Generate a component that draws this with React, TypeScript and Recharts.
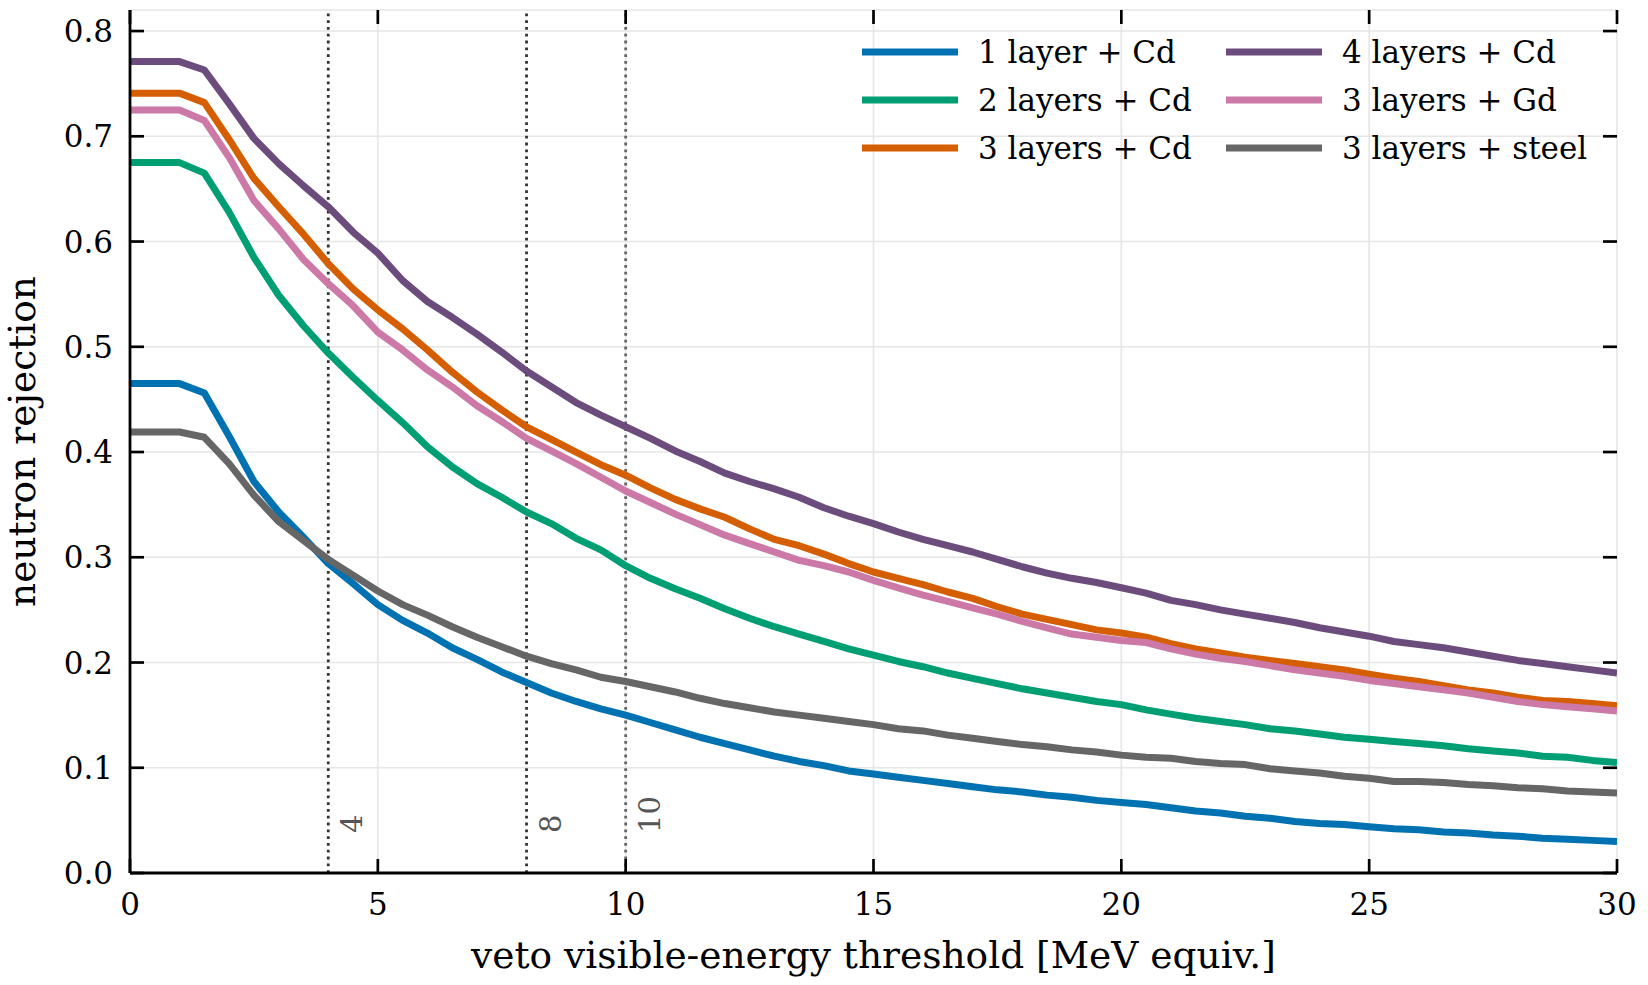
import React from 'react';
import { LineChart, Line, XAxis, YAxis, CartesianGrid, ReferenceLine, Legend } from 'recharts';

const thresholds = [
  0, 0.5, 1, 1.5, 2, 2.5, 3, 3.5, 4, 4.5,
  5, 5.5, 6, 6.5, 7, 7.5, 8, 8.5, 9, 9.5,
  10, 10.5, 11, 11.5, 12, 12.5, 13, 13.5, 14, 14.5,
  15, 15.5, 16, 16.5, 17, 17.5, 18, 18.5, 19, 19.5,
  20, 20.5, 21, 21.5, 22, 22.5, 23, 23.5, 24, 24.5,
  25, 25.5, 26, 26.5, 27, 27.5, 28, 28.5, 29, 29.5,
  30,
];

const oneLayerCd = [
  0.465, 0.465, 0.465, 0.456, 0.415, 0.372, 0.343, 0.319, 0.294, 0.275,
  0.255, 0.240, 0.228, 0.214, 0.203, 0.191, 0.181, 0.171, 0.163, 0.156,
  0.150, 0.143, 0.136, 0.129, 0.123, 0.117, 0.111, 0.106, 0.102, 0.097,
  0.094, 0.091, 0.088, 0.085, 0.082, 0.079, 0.077, 0.074, 0.072, 0.069,
  0.067, 0.065, 0.062, 0.059, 0.057, 0.054, 0.052, 0.049, 0.047, 0.046,
  0.044, 0.042, 0.041, 0.039, 0.038, 0.036, 0.035, 0.033, 0.032, 0.031,
  0.030,
];

const twoLayersCd = [
  0.675, 0.675, 0.675, 0.665, 0.628, 0.585, 0.549, 0.520, 0.494, 0.471,
  0.449, 0.428, 0.405, 0.386, 0.370, 0.357, 0.343, 0.332, 0.318, 0.307,
  0.292, 0.280, 0.270, 0.261, 0.251, 0.242, 0.234, 0.227, 0.220, 0.213,
  0.207, 0.201, 0.196, 0.190, 0.185, 0.180, 0.175, 0.171, 0.167, 0.163,
  0.160, 0.155, 0.151, 0.147, 0.144, 0.141, 0.137, 0.135, 0.132, 0.129,
  0.127, 0.125, 0.123, 0.121, 0.118, 0.116, 0.114, 0.111, 0.110, 0.107,
  0.105,
];

const threeLayersCd = [
  0.741, 0.741, 0.741, 0.732, 0.697, 0.660, 0.633, 0.607, 0.579, 0.555,
  0.535, 0.517, 0.497, 0.476, 0.457, 0.440, 0.424, 0.412, 0.400, 0.388,
  0.378, 0.366, 0.355, 0.346, 0.338, 0.327, 0.317, 0.311, 0.303, 0.294,
  0.286, 0.280, 0.274, 0.267, 0.261, 0.253, 0.246, 0.241, 0.236, 0.231,
  0.228, 0.224, 0.218, 0.213, 0.209, 0.205, 0.202, 0.199, 0.196, 0.193,
  0.189, 0.185, 0.182, 0.178, 0.174, 0.171, 0.167, 0.164, 0.163, 0.161,
  0.159,
];

const fourLayersCd = [
  0.771, 0.771, 0.771, 0.763, 0.731, 0.698, 0.674, 0.653, 0.633, 0.609,
  0.589, 0.563, 0.543, 0.528, 0.512, 0.495, 0.477, 0.462, 0.447, 0.435,
  0.424, 0.413, 0.401, 0.391, 0.380, 0.372, 0.365, 0.357, 0.347, 0.339,
  0.332, 0.324, 0.317, 0.311, 0.305, 0.298, 0.291, 0.285, 0.280, 0.276,
  0.271, 0.266, 0.259, 0.255, 0.250, 0.246, 0.242, 0.238, 0.233, 0.229,
  0.225, 0.220, 0.217, 0.214, 0.210, 0.206, 0.202, 0.199, 0.196, 0.193,
  0.190,
];

const threeLayersGd = [
  0.725, 0.725, 0.725, 0.715, 0.680, 0.639, 0.612, 0.583, 0.560, 0.539,
  0.514, 0.497, 0.478, 0.462, 0.444, 0.429, 0.413, 0.401, 0.389, 0.376,
  0.363, 0.352, 0.341, 0.331, 0.321, 0.313, 0.305, 0.297, 0.292, 0.286,
  0.278, 0.271, 0.264, 0.258, 0.252, 0.246, 0.239, 0.233, 0.227, 0.224,
  0.221, 0.219, 0.213, 0.208, 0.204, 0.201, 0.197, 0.193, 0.190, 0.187,
  0.183, 0.180, 0.177, 0.174, 0.171, 0.167, 0.163, 0.160, 0.158, 0.156,
  0.154,
];

const threeLayersSteel = [
  0.419, 0.419, 0.419, 0.414, 0.389, 0.359, 0.334, 0.316, 0.298, 0.283,
  0.268, 0.255, 0.245, 0.234, 0.224, 0.215, 0.206, 0.199, 0.193, 0.186,
  0.182, 0.177, 0.172, 0.166, 0.161, 0.157, 0.153, 0.150, 0.147, 0.144,
  0.141, 0.137, 0.135, 0.131, 0.128, 0.125, 0.122, 0.120, 0.117, 0.115,
  0.112, 0.110, 0.109, 0.106, 0.104, 0.103, 0.099, 0.097, 0.095, 0.092,
  0.090, 0.087, 0.087, 0.086, 0.084, 0.083, 0.081, 0.080, 0.078, 0.077,
  0.076,
];

const seriesKeys = ['l1cd', 'l2cd', 'l3cd', 'l4cd', 'l3gd', 'l3steel'];
const seriesNames = ['1 layer + Cd', '2 layers + Cd', '3 layers + Cd', '4 layers + Cd', '3 layers + Gd', '3 layers + steel'];
const seriesColors = ['#0072B2', '#009E73', '#D55E00', '#6C4C7C', '#CC79A7', '#666666'];
const seriesValues = [oneLayerCd, twoLayersCd, threeLayersCd, fourLayersCd, threeLayersGd, threeLayersSteel];

const xTicks = [0, 5, 10, 15, 20, 25, 30];
const yTicks = [0, 0.1, 0.2, 0.3, 0.4, 0.5, 0.6, 0.7, 0.8];
const markers = [4, 8, 10];
const markerLabels = ['4', '8', '10'];
const markerColors = ['#333333', '#333333', '#666666'];

const data = thresholds.map((x, i) => {
  const row: Record<string, number> = { x };
  seriesKeys.forEach((k, j) => {
    row[k] = seriesValues[j][i];
  });
  return row;
});

// Layout constants
const CHART_W = 1648;
const CHART_H = 985;
const MARGIN = { top: 10, right: 31, bottom: 10, left: 60 };
const X_AXIS_H = 102;
const Y_AXIS_W = 70;
const PLOT_W = CHART_W - MARGIN.left - Y_AXIS_W - MARGIN.right;
const PLOT_H = CHART_H - MARGIN.top - MARGIN.bottom - X_AXIS_H;

const FONT = 'DejaVu Serif';
const TICK_LEN = 14;
const TICK_W = 2.7;
const TICK_C = '#000';
const FRAME_W = 2.8;

// Bottom tick: inward tick at bottom and mirrored tick at top frame, plus label.
const BottomTick = (props: any) => {
  const { x, y, payload } = props;
  const yTop = y - PLOT_H;
  return (
    <g>
      <line x1={x} y1={y} x2={x} y2={y - TICK_LEN} stroke={TICK_C} strokeWidth={TICK_W} />
      <line x1={x} y1={yTop} x2={x} y2={yTop + TICK_LEN} stroke={TICK_C} strokeWidth={TICK_W} />
      <text x={x} y={y + 42} textAnchor="middle" fontFamily={FONT} fontSize={31} fill="#000">
        {payload.value}
      </text>
    </g>
  );
};

// Left tick: inward tick at left and mirrored tick at right frame, plus label.
const LeftTick = (props: any) => {
  const { x, y, payload } = props;
  const xRight = x + PLOT_W;
  return (
    <g>
      <line x1={x} y1={y} x2={x + TICK_LEN} y2={y} stroke={TICK_C} strokeWidth={TICK_W} />
      <line x1={xRight} y1={y} x2={xRight - TICK_LEN} y2={y} stroke={TICK_C} strokeWidth={TICK_W} />
      <text x={x - 17} y={y + 11} textAnchor="end" fontFamily={FONT} fontSize={31} fill="#000">
        {Number(payload.value).toFixed(1)}
      </text>
    </g>
  );
};

const NoTick = () => <g />;

const makeMarkerLabel = (text: string) => (props: any) => {
  const vb = props.viewBox || {};
  const lx = (vb.x || 0) + 24;
  const ly = (vb.y || 0) + (vb.height || 0) - 40;
  return (
    <text
      x={lx}
      y={ly}
      transform={`rotate(-90, ${lx}, ${ly})`}
      textAnchor="start"
      dominantBaseline="central"
      fontFamily={FONT}
      fontSize={29}
      fill="#555555"
    >
      {text}
    </text>
  );
};

const legendOrder = [0, 1, 2, 3, 4, 5];

const LegendContent = () => {
  const colX = [7, 371];
  const rowY = [27, 75, 123];
  return (
    <svg width={780} height={150} style={{ overflow: 'visible' }}>
      {legendOrder.map((idx, n) => {
        const col = Math.floor(n / 3);
        const row = n % 3;
        const x0 = colX[col];
        const y0 = rowY[row];
        return (
          <g key={seriesKeys[idx]}>
            <line x1={x0} y1={y0} x2={x0 + 96} y2={y0} stroke={seriesColors[idx]} strokeWidth={7} />
            <text x={x0 + 116} y={y0 + 11} fontFamily={FONT} fontSize={31} fill="#000">
              {seriesNames[idx]}
            </text>
          </g>
        );
      })}
    </svg>
  );
};

export default function App() {
  return (
    <div style={{ position: 'absolute', left: 0, top: 0, width: CHART_W, height: CHART_H, background: '#fff' }}>
      <LineChart width={CHART_W} height={CHART_H} data={data} margin={MARGIN}>
        <CartesianGrid stroke="#e6e6e6" strokeWidth={1.6} />
        <XAxis
          dataKey="x"
          type="number"
          domain={[0, 30]}
          ticks={xTicks}
          interval={0}
          height={X_AXIS_H}
          tickSize={0}
          tickMargin={0}
          tick={<BottomTick />}
          tickLine={false}
          axisLine={{ stroke: '#000', strokeWidth: FRAME_W }}
          allowDataOverflow
          label={{
            value: 'veto visible-energy threshold [MeV equiv.]',
            position: 'insideBottom',
            offset: 7,
            style: { fontFamily: FONT, fontSize: 37.5, fill: '#000' },
          }}
        />
        <XAxis
          xAxisId="top"
          orientation="top"
          dataKey="x"
          type="number"
          domain={[0, 30]}
          ticks={xTicks}
          interval={0}
          height={0}
          tickSize={0}
          tickMargin={0}
          tick={<NoTick />}
          tickLine={false}
          axisLine={{ stroke: '#000', strokeWidth: FRAME_W }}
          allowDataOverflow
        />
        <YAxis
          type="number"
          domain={[0, 0.82]}
          ticks={yTicks}
          interval={0}
          width={Y_AXIS_W}
          tickSize={0}
          tickMargin={0}
          tick={<LeftTick />}
          tickLine={false}
          axisLine={{ stroke: '#000', strokeWidth: FRAME_W }}
          allowDataOverflow
          label={{
            value: 'neutron rejection',
            angle: -90,
            position: 'insideLeft',
            offset: -38,
            style: { fontFamily: FONT, fontSize: 37.5, fill: '#000', textAnchor: 'middle' },
          }}
        />
        <YAxis
          yAxisId="right"
          orientation="right"
          type="number"
          domain={[0, 0.82]}
          ticks={yTicks}
          interval={0}
          width={0}
          tickSize={0}
          tickMargin={0}
          tick={<NoTick />}
          tickLine={false}
          axisLine={{ stroke: '#000', strokeWidth: FRAME_W }}
          allowDataOverflow
        />
        {markers.map((m, i) => (
          <ReferenceLine
            key={`m${m}`}
            x={m}
            stroke={markerColors[i]}
            strokeWidth={2.8}
            strokeDasharray="2.8 4"
            label={makeMarkerLabel(markerLabels[i])}
          />
        ))}
        {seriesKeys.map((k, i) => (
          <Line
            key={k}
            dataKey={k}
            name={seriesNames[i]}
            stroke={seriesColors[i]}
            strokeWidth={7}
            dot={false}
            activeDot={false}
            type="linear"
            strokeLinejoin="round"
            isAnimationActive={false}
          />
        ))}
        <Legend
          layout="vertical"
          align="center"
          verticalAlign="middle"
          content={<LegendContent />}
          wrapperStyle={{ position: 'absolute', left: 855, top: 25, width: 780, height: 150 }}
        />
      </LineChart>
    </div>
  );
}
